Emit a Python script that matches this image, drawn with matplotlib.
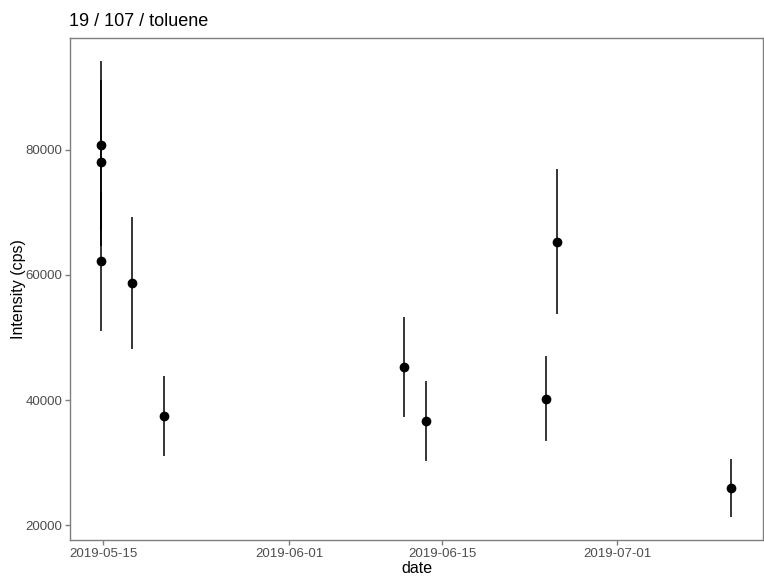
import numpy as np
import pandas as pd
import matplotlib
matplotlib.use("Agg")
import matplotlib.pyplot as plt
import matplotlib.dates as mdates

plt.rcParams['font.family'] = ['Liberation Sans', 'DejaVu Sans']

# values
dates = ["2019-05-14 20:00", "2019-05-14 20:00", "2019-05-14 20:00",
         "2019-05-17 14:00", "2019-05-20 14:00", "2019-06-11 12:00",
         "2019-06-13 12:00", "2019-06-24 11:00", "2019-06-25 11:00",
         "2019-07-11 10:00"]
intensity = [80700, 78000, 62300, 58700, 37500, 45300, 36600, 40200, 65300, 25900]
lower = [67200, 64600, 51000, 48200, 31100, 37300, 30200, 33400, 53700, 21300]
upper = [94200, 91100, 73300, 69200, 43900, 53300, 43000, 47100, 77000, 30600]

x = pd.to_datetime(dates)
tick_dates = pd.to_datetime(["2019-05-15", "2019-06-01", "2019-06-15", "2019-07-01"])

fig = plt.figure(figsize=(7.64, 5.76), dpi=100)
ax = fig.add_axes([0.0916, 0.0625, 0.907, 0.8715])

ax.vlines(x, lower, upper, color="black", linewidth=1.3, alpha=0.85)
ax.plot(x, intensity, "o", color="black", markersize=6)

ax.margins(x=0.05, y=0.05)
ax.set_xticks(tick_dates)
ax.xaxis.set_major_formatter(mdates.DateFormatter("%Y-%m-%d"))
ax.set_yticks([20000, 40000, 60000, 80000])
ax.yaxis.set_major_formatter(matplotlib.ticker.FuncFormatter(lambda v, p: "%d" % v))

for s in ax.spines.values():
    s.set_color("#7f7f7f")
    s.set_linewidth(1.0)
ax.tick_params(colors="#7f7f7f", labelcolor="#4d4d4d", length=3.5, width=1.0,
               labelsize=9.5, pad=2)

ax.set_xlabel("date", fontsize=11.5, va="center")
ax.xaxis.set_label_coords(0.5, -0.056)
ax.set_ylabel("Intensity (cps)", fontsize=11.5, va="center")
ax.yaxis.set_label_coords(-0.075, 0.5)
fig.text(0.0905, 0.962, "19 / 107 / toluene", fontsize=13, ha="left", va="center")

fig.savefig("out.png", dpi=100)
